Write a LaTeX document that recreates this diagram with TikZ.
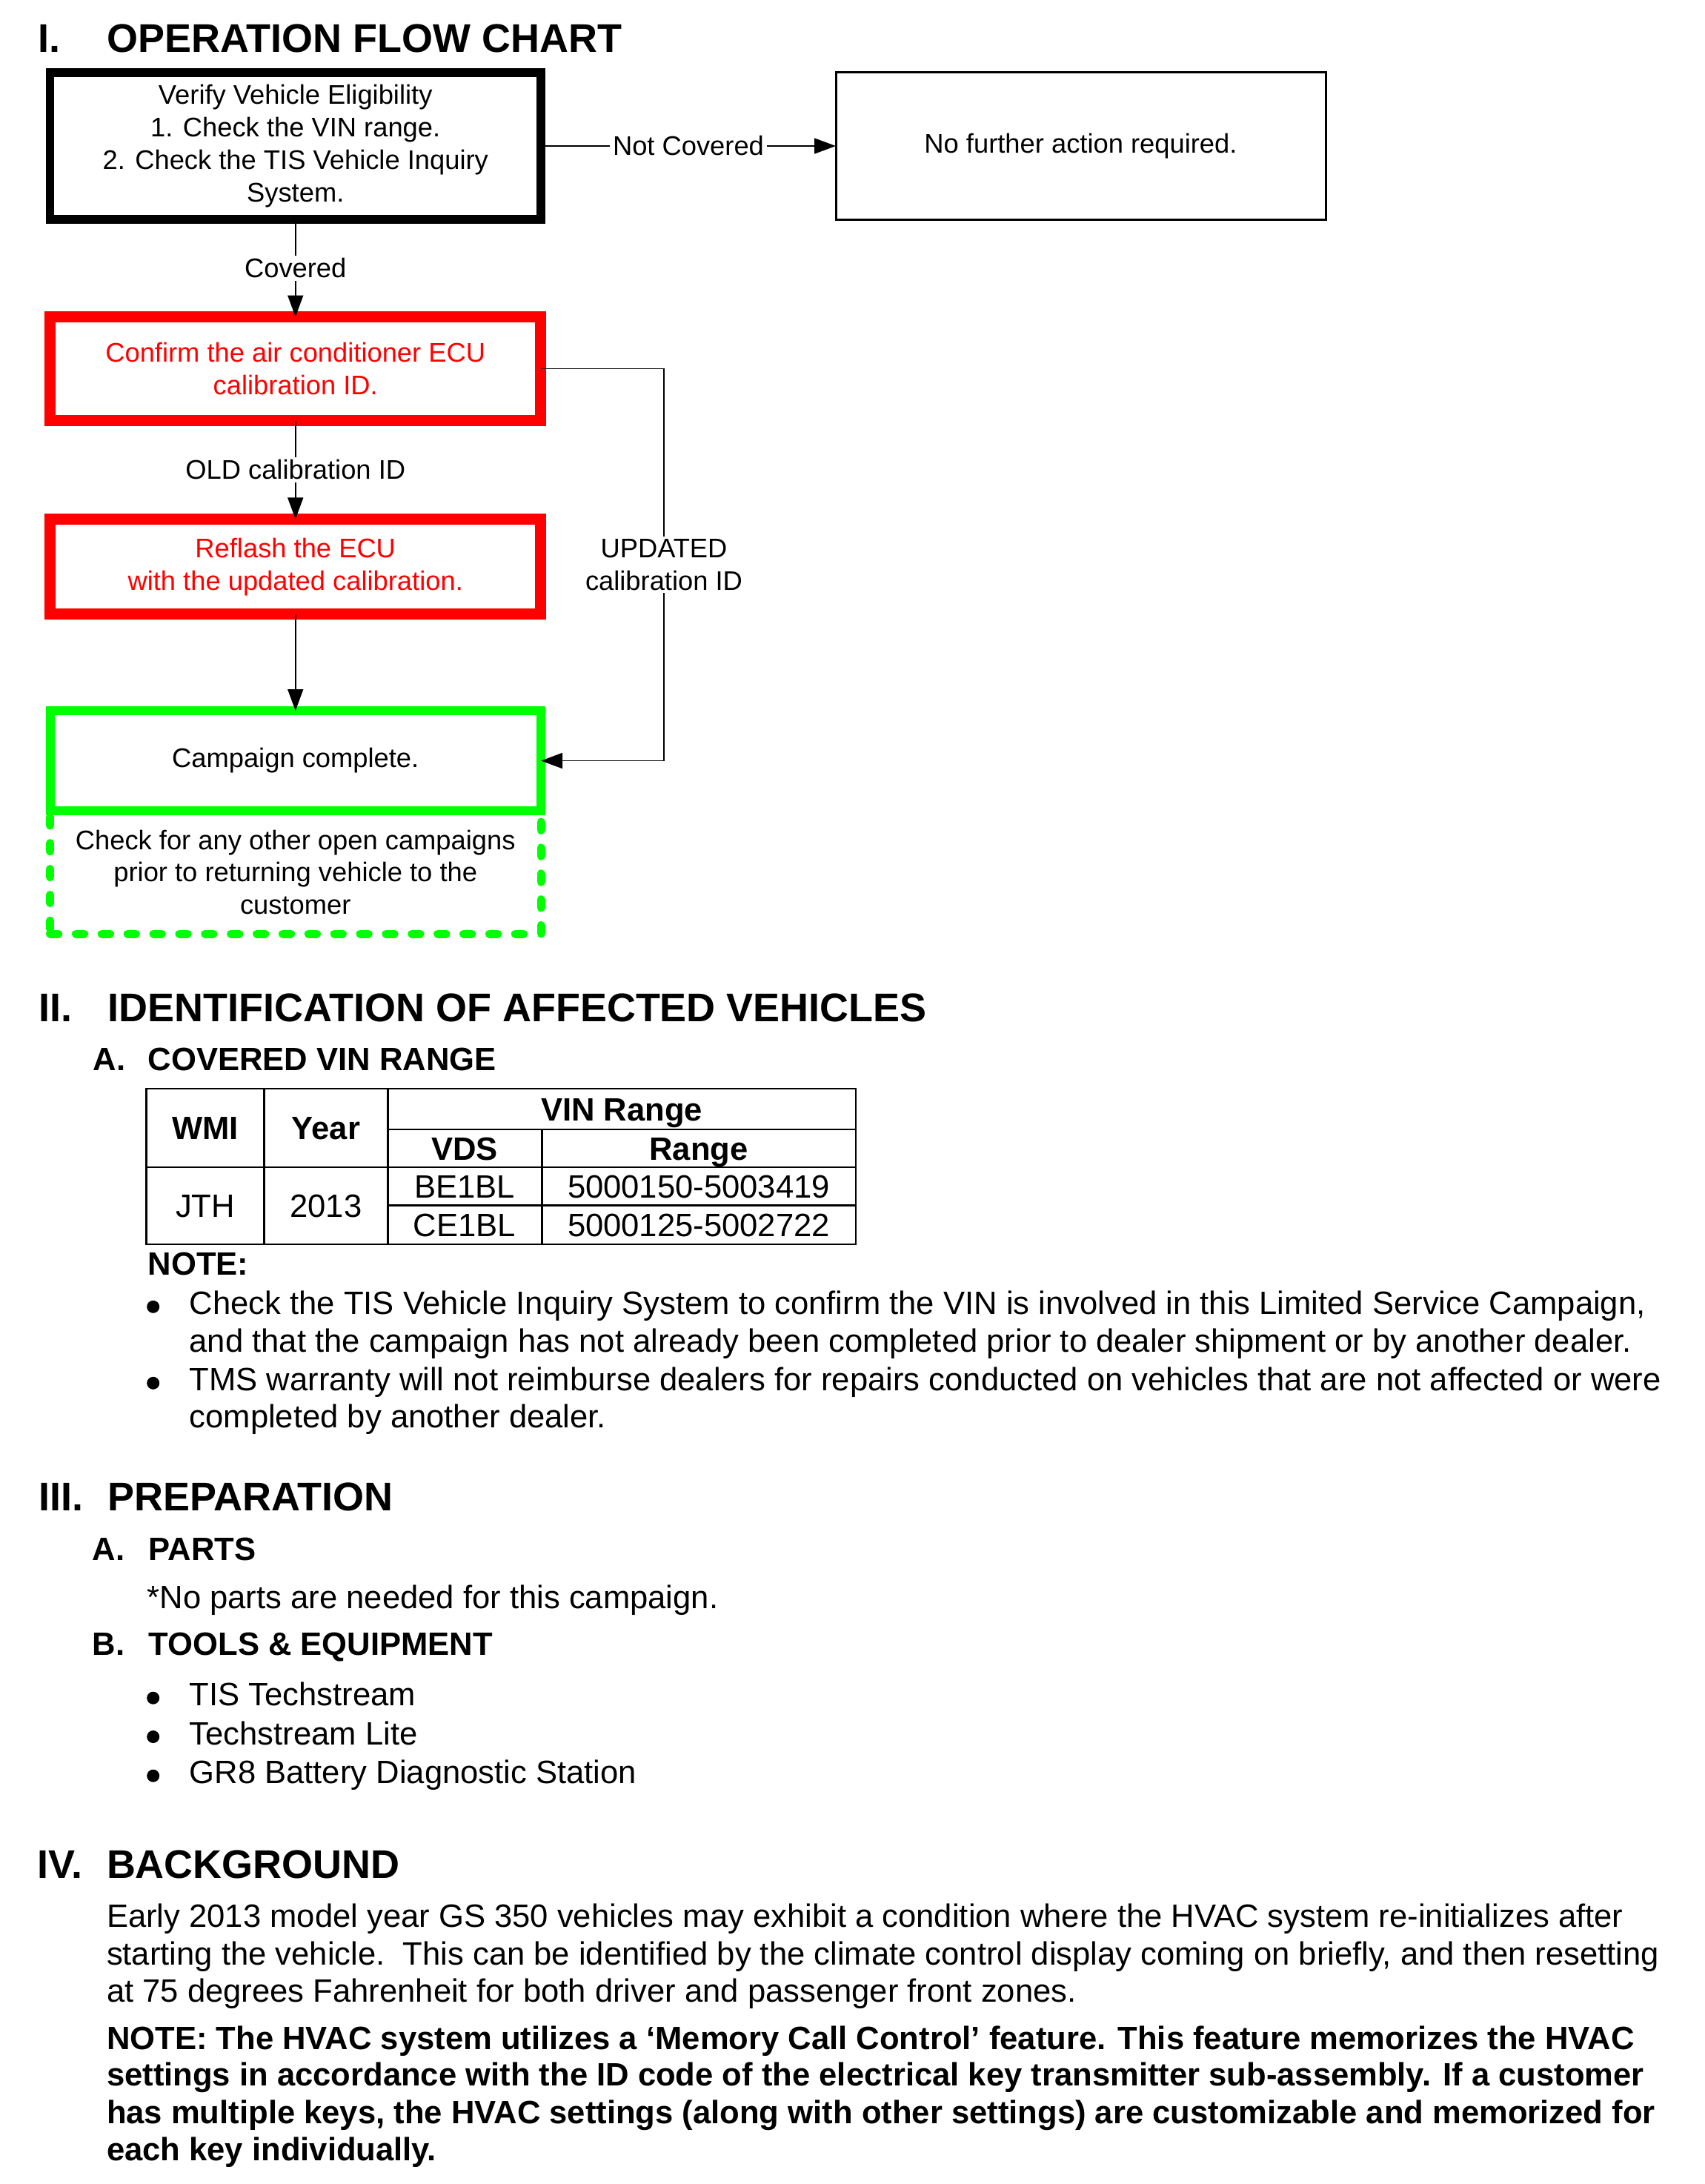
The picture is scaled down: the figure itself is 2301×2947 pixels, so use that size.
\documentclass[tikz,border=0pt]{standalone}
\usepackage{fontspec}
\setmainfont{Liberation Sans}
\usetikzlibrary{arrows.meta}
\definecolor{fred}{RGB}{255,0,0}
\definecolor{fgreen}{RGB}{0,255,0}
\newcommand\pxx[1]{#1*0.27525pt}
\newcommand\fcfont{\fontsize{10}{12.1}\selectfont}
\newcommand\honefont{\fontsize{14.85}{17}\selectfont\bfseries}
\newcommand\htwofont{\fontsize{12}{14}\selectfont\bfseries}
\newcommand\bodyfont{\fontsize{12}{14}\selectfont}
\begin{document}
\begin{tikzpicture}[x=0.27525pt, y=-0.27525pt,
  fbox/.style={rectangle, draw, fill=white, inner sep=0pt, outer sep=0pt, align=center, font=\fcfont},
  redbox/.style={fbox, draw=fred, text=fred, line width=\pxx{15}},
  arr/.style={-{Triangle[length=\pxx{29},width=\pxx{21}]}, line width=0.45pt},
  lbl/.style={fill=white, inner sep=1pt, font=\fcfont, align=center},
  hone/.style={anchor=base west, inner sep=0pt, font=\honefont},
  htwo/.style={anchor=base west, inner sep=0pt, font=\htwofont},
  body/.style={anchor=base west, inner sep=0pt, font=\bodyfont},
  bodyb/.style={anchor=base west, inner sep=0pt, font=\htwofont},
  cell/.style={anchor=base, inner sep=0pt, font=\bodyfont},
  cellb/.style={anchor=base, inner sep=0pt, font=\htwofont},
  bul/.style={circle, fill=black, inner sep=0pt, minimum size=\pxx{17}},
  tbl/.style={line width=0.75pt}
]
\useasboundingbox (0,0) rectangle (2301,2947);

% ---------- I. OPERATION FLOW CHART ----------
\node[hone] (h1n) at (51,70.7) {I.};
\node[hone] (h1) at (144,70.7) {OPERATION FLOW CHART};

\node[fbox, line width=\pxx{11.5}, minimum width=\pxx{662.5}, minimum height=\pxx{198}] (b1) at (398.75,197)
  {Verify Vehicle Eligibility\\1. Check the VIN range.\\2. Check the TIS Vehicle Inquiry\\System.};
\node[fbox, line width=\pxx{3}, minimum width=\pxx{661}, minimum height=\pxx{198}] (b2) at (1458.5,197)
  {No further action required.};
\node[redbox, minimum width=\pxx{662}, minimum height=\pxx{140}] (b3) at (398.75,497.5)
  {Confirm the air conditioner ECU\\calibration ID.};
\node[redbox, minimum width=\pxx{662}, minimum height=\pxx{128.5}] (b4) at (398.75,764.7)
  {Reflash the ECU\\with the updated calibration.};
\node[fbox, draw=fgreen, line width=\pxx{11}, line cap=round, dash pattern=on 3.1pt off 6.5pt,
  minimum width=\pxx{662.5}, minimum height=\pxx{166}] (b6) at (398.75,1177)
  {Check for any other open campaigns\\prior to returning vehicle to the\\customer};
\node[fbox, draw=fgreen, line width=\pxx{12}, minimum width=\pxx{662.5}, minimum height=\pxx{135}] (b5) at (398.75,1026.5)
  {Campaign complete.};

\coordinate (c1) at (896,497.5);
\coordinate (c2) at (896,1026.5);

\draw[arr] (b1.east) -- node[lbl]{Not Covered} (b2.west);
\draw[arr] (b1.south) -- node[lbl]{Covered} (b3.north);
\draw[arr] (b3.south) -- node[lbl]{OLD calibration ID} (b4.north);
\draw[arr] (b4.south) -- (b5.north);
\draw[arr] (b3.east) -- (c1) -- node[lbl]{UPDATED\\calibration ID} (c2) -- (b5.east);

% ---------- II. IDENTIFICATION ----------
\node[hone] (h2n) at (52,1378) {II.};
\node[hone] (h2) at (145,1378) {IDENTIFICATION OF AFFECTED VEHICLES};
\node[htwo] (h2an) at (125,1444.6) {A.};
\node[htwo] (h2a) at (199,1444.6) {COVERED VIN RANGE};

\draw[tbl] (197.4,1469) rectangle (1155,1679);
\draw[tbl] (356.5,1469) -- (356.5,1679);
\draw[tbl] (523.3,1469) -- (523.3,1679);
\draw[tbl] (731.4,1524) -- (731.4,1679);
\draw[tbl] (523.3,1524) -- (1155,1524);
\draw[tbl] (197.4,1575) -- (1155,1575);
\draw[tbl] (523.3,1626.4) -- (1155,1626.4);

\node[cellb] (tw) at (277,1537.5) {WMI};
\node[cellb] (ty) at (440,1537.5) {Year};
\node[cellb] (tv) at (839,1512) {VIN Range};
\node[cellb] (tvds) at (627,1565) {VDS};
\node[cellb] (tr) at (943,1565) {Range};
\node[cell] (d1) at (277,1642.5) {JTH};
\node[cell] (d2) at (440,1642.5) {2013};
\node[cell] (d3) at (627,1616.2) {BE1BL};
\node[cell] (d4) at (943,1616.2) {5000150-5003419};
\node[cell] (d5) at (627,1668.2) {CE1BL};
\node[cell] (d6) at (943,1668.2) {5000125-5002722};

\node[bodyb] (note) at (199,1720.7) {NOTE:};
\node[bul] (nb1) at (206.7,1763.3) {};
\node[body] (n1) at (255,1773) {Check the TIS Vehicle Inquiry System to confirm the VIN is involved in this Limited Service Campaign,};
\node[body] (n2) at (255,1824) {and that the campaign has not already been completed prior to dealer shipment or by another dealer.};
\node[bul] (nb2) at (206.7,1866.3) {};
\node[body] (n3) at (255,1876) {TMS warranty will not reimburse dealers for repairs conducted on vehicles that are not affected or were};
\node[body] (n4) at (255,1926.7) {completed by another dealer.};

% ---------- III. PREPARATION ----------
\node[hone] (h3n) at (51.7,2038) {III.};
\node[hone] (h3) at (145,2038) {PREPARATION};
\node[htwo] (h3an) at (124,2105) {A.};
\node[htwo] (h3a) at (200,2105) {PARTS};
\node[body] (p1) at (198,2170) {*No parts are needed for this campaign.};
\node[htwo] (h3bn) at (124,2233) {B.};
\node[htwo] (h3b) at (200,2233) {TOOLS \& EQUIPMENT};
\node[bul] (tb1) at (206.7,2291.2) {};
\node[body] (t1) at (255,2301.7) {TIS Techstream};
\node[bul] (tb2) at (206.7,2343.5) {};
\node[body] (t2) at (255,2354) {Techstream Lite};
\node[bul] (tb3) at (206.7,2396.2) {};
\node[body] (t3) at (255,2406.7) {GR8 Battery Diagnostic Station};

% ---------- IV. BACKGROUND ----------
\node[hone] (h4n) at (50,2534) {IV.};
\node[hone] (h4) at (143.3,2534) {BACKGROUND};
\node[body] (g1) at (143.3,2600) {Early 2013 model year GS 350 vehicles may exhibit a condition where the HVAC system re-initializes after};
\node[body] (g2) at (143.3,2651) {starting the vehicle.\ \ This can be identified by the climate control display coming on briefly, and then resetting};
\node[body] (g3) at (143.3,2701) {at 75 degrees Fahrenheit for both driver and passenger front zones.};
\node[bodyb] (g4) at (143.3,2765) {NOTE: The HVAC system utilizes a ‘Memory Call Control’ feature. This feature memorizes the HVAC};
\node[bodyb] (g5) at (143.3,2814) {settings in accordance with the ID code of the electrical key transmitter sub-assembly. If a customer};
\node[bodyb] (g6) at (143.3,2865) {has multiple keys, the HVAC settings (along with other settings) are customizable and memorized for};
\node[bodyb] (g7) at (143.3,2915) {each key individually.};
\end{tikzpicture}
\end{document}
